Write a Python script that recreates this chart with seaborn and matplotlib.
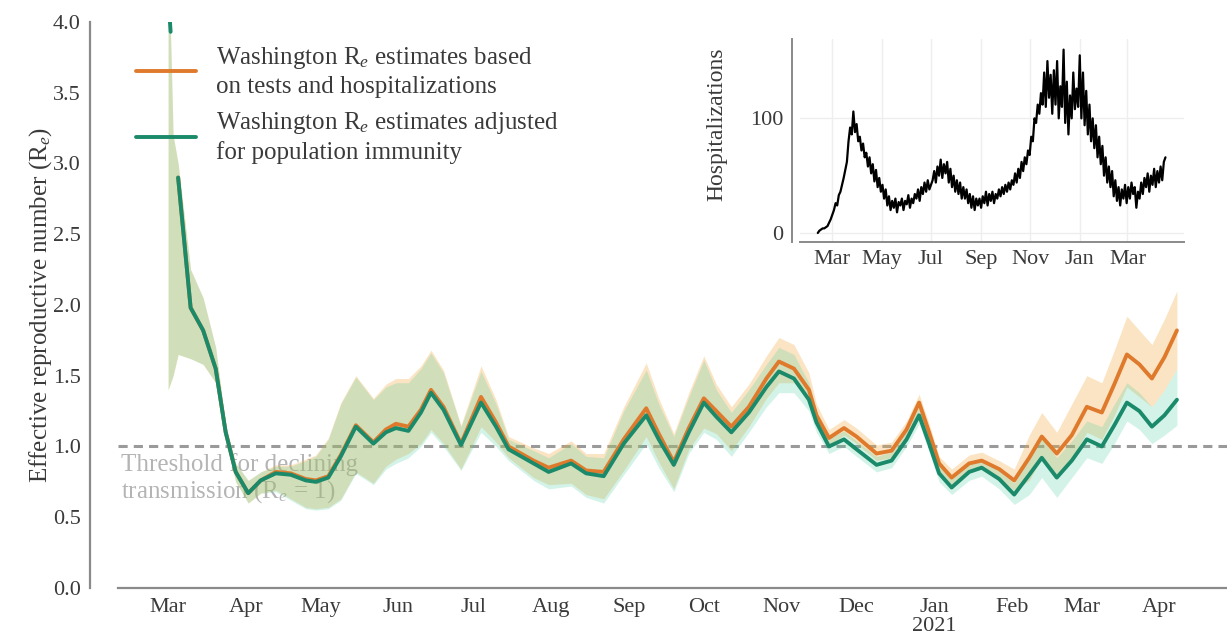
#!/usr/bin/env python3
"""Washington effective reproductive number with hospitalization inset."""

import numpy as np
import pandas as pd

import matplotlib
matplotlib.use('Agg')
import matplotlib.pyplot as plt
import matplotlib.dates as mdates
import seaborn as sns

# ---- Re estimates (days since 2020-03-01) ----
start_day = pd.Timestamp("2020-03-01")
head_days = [0, 1]
head_vals = [4.20, 3.93]

days = [0, 2, 4, 9, 14, 19, 23, 27, 32, 37, 43, 49, 55, 59, 64, 69, 75, 82, 87, 91,
        96, 101, 105, 110, 117, 125, 131, 136, 146, 152, 161, 167, 174, 182, 191, 196,
        202, 208, 214, 219, 225, 232, 239, 244, 250, 256, 259, 264, 270, 275, 283, 289,
        295, 300, 304, 308, 313, 320, 325, 332, 338, 344, 349, 355, 361, 367, 373, 378,
        383, 388, 393, 398, 403]

adjusted = [3.93, np.nan, 2.90, 1.98, 1.82, 1.55, 1.10, 0.82, 0.67, 0.76, 0.81, 0.80,
            0.76, 0.75, 0.78, 0.93, 1.14, 1.02, 1.10, 1.13, 1.11, 1.24, 1.38, 1.26, 1.01,
            1.31, 1.14, 0.98, 0.88, 0.82, 0.88, 0.81, 0.79, 1.02, 1.22, 1.05, 0.87, 1.10,
            1.31, 1.21, 1.10, 1.24, 1.42, 1.53, 1.48, 1.33, 1.17, 1.00, 1.05, 0.98, 0.87,
            0.90, 1.05, 1.22, 1.02, 0.81, 0.71, 0.82, 0.85, 0.77, 0.66, 0.80, 0.92, 0.78,
            0.90, 1.05, 1.00, 1.15, 1.31, 1.25, 1.14, 1.22, 1.33]
adjusted_lo = [1.40, 1.50, 1.65, 1.62, 1.58, 1.45, 1.05, 0.75, 0.60, 0.67, 0.68, 0.62,
               0.56, 0.55, 0.56, 0.62, 0.81, 0.73, 0.84, 0.88, 0.92, 1.00, 1.10, 1.00, 0.83,
               1.10, 1.00, 0.90, 0.76, 0.70, 0.72, 0.64, 0.60, 0.80, 1.02, 0.85, 0.68, 0.95,
               1.10, 1.05, 0.93, 1.10, 1.28, 1.38, 1.38, 1.25, 1.10, 0.95, 1.00, 0.93, 0.82,
               0.85, 1.00, 1.16, 0.96, 0.75, 0.66, 0.76, 0.79, 0.70, 0.59, 0.66, 0.78, 0.64,
               0.78, 0.92, 0.88, 1.02, 1.18, 1.12, 1.02, 1.08, 1.15]
adjusted_hi = [4.60, 3.20, 3.00, 2.25, 2.05, 1.70, 1.15, 0.88, 0.76, 0.82, 0.86, 0.86,
               0.90, 0.93, 1.05, 1.30, 1.49, 1.33, 1.42, 1.45, 1.45, 1.55, 1.66, 1.52, 1.14,
               1.53, 1.30, 1.05, 0.97, 0.92, 1.02, 0.93, 0.92, 1.25, 1.54, 1.30, 1.07, 1.35,
               1.61, 1.40, 1.24, 1.40, 1.58, 1.70, 1.65, 1.45, 1.25, 1.06, 1.11, 1.04, 0.93,
               0.96, 1.11, 1.28, 1.08, 0.86, 0.77, 0.88, 0.91, 0.83, 0.74, 0.95, 1.06, 0.92,
               1.04, 1.18, 1.14, 1.30, 1.45, 1.38, 1.28, 1.40, 1.55]

tests_hosp = [3.93, np.nan, 2.90, 1.98, 1.82, 1.55, 1.10, 0.82, 0.67, 0.76, 0.82, 0.81,
              0.77, 0.76, 0.79, 0.94, 1.15, 1.03, 1.12, 1.16, 1.14, 1.26, 1.40, 1.28, 1.02,
              1.35, 1.17, 1.00, 0.90, 0.85, 0.90, 0.83, 0.82, 1.05, 1.27, 1.09, 0.89, 1.13,
              1.34, 1.25, 1.14, 1.28, 1.48, 1.60, 1.55, 1.40, 1.22, 1.06, 1.13, 1.07, 0.95,
              0.97, 1.12, 1.31, 1.10, 0.88, 0.78, 0.88, 0.90, 0.84, 0.76, 0.92, 1.07, 0.95,
              1.08, 1.28, 1.24, 1.44, 1.65, 1.58, 1.48, 1.63, 1.82]
tests_hosp_lo = [1.40, 1.50, 1.65, 1.62, 1.58, 1.45, 1.05, 0.75, 0.60, 0.67, 0.69, 0.63,
                 0.57, 0.56, 0.57, 0.63, 0.82, 0.74, 0.86, 0.91, 0.95, 1.02, 1.12, 1.02, 0.84,
                 1.14, 1.03, 0.92, 0.78, 0.73, 0.74, 0.66, 0.63, 0.83, 1.07, 0.89, 0.70, 0.98,
                 1.13, 1.09, 0.97, 1.14, 1.34, 1.45, 1.45, 1.32, 1.15, 1.01, 1.08, 1.02, 0.90,
                 0.92, 1.07, 1.25, 1.04, 0.82, 0.73, 0.82, 0.84, 0.77, 0.69, 0.76, 0.92, 0.80,
                 0.92, 1.10, 1.05, 1.22, 1.42, 1.35, 1.28, 1.40, 1.55]
tests_hosp_hi = [4.60, 3.20, 3.00, 2.25, 2.05, 1.70, 1.15, 0.88, 0.76, 0.82, 0.87, 0.87,
                 0.91, 0.94, 1.06, 1.31, 1.50, 1.34, 1.44, 1.48, 1.48, 1.57, 1.68, 1.54, 1.15,
                 1.57, 1.33, 1.07, 0.99, 0.95, 1.04, 0.95, 0.95, 1.28, 1.59, 1.34, 1.09, 1.38,
                 1.64, 1.44, 1.28, 1.44, 1.64, 1.77, 1.72, 1.52, 1.30, 1.12, 1.19, 1.13, 1.01,
                 1.03, 1.18, 1.37, 1.16, 0.93, 0.84, 0.94, 0.96, 0.90, 0.84, 1.08, 1.24, 1.10,
                 1.30, 1.50, 1.45, 1.68, 1.92, 1.82, 1.72, 1.90, 2.10]

# ---- daily hospitalizations, every second day from 2020-02-12 ----
hosp_start = "2020-02-12"
hosp = [0, 2, 3, 4, 4, 5, 6, 9, 12, 16,
        20, 26, 24, 33, 36, 42, 48,
        55, 62, 80, 92, 86, 106,
        88, 95, 80, 84, 72, 78, 66, 70,
        58, 66, 52, 60, 45, 55, 40, 48, 36, 42,
        30, 38, 24, 32, 20, 28, 22, 30, 18, 27,
        24, 30, 20, 28, 25, 33, 22, 30, 26, 34,
        30, 38, 28, 40, 34, 44, 36, 46, 38, 42,
        46, 54, 44, 58, 50, 64, 48, 60, 52, 62,
        44, 56, 40, 50, 36, 46, 34, 44, 30, 40,
        30, 38, 26, 34, 22, 32, 20, 30, 24, 30,
        22, 32, 26, 36, 24, 34, 28, 36, 26, 34,
        30, 38, 32, 40, 34, 42, 36, 44, 38, 46,
        42, 52, 44, 56, 48, 62, 54, 66, 60, 72,
        68, 84, 80, 100, 96, 112, 104, 122, 112, 140,
        110, 150, 118, 138, 104, 142, 112, 150, 100, 128,
        110, 160, 96, 132, 86, 120, 100, 140, 108, 126,
        110, 155, 100, 140, 94, 124, 86, 112, 80, 100,
        74, 94, 66, 84, 60, 76, 50, 66, 44, 58,
        40, 54, 32, 46, 28, 40, 24, 38, 30, 42,
        26, 40, 30, 44, 34, 40, 22, 36, 30, 44,
        34, 48, 40, 52, 36, 50, 42, 56, 40, 54,
        44, 58, 46, 62, 66]

orange = "#df7a2c"
green = "#1a8a6a"
orange_fill = "#f2ad45"
green_fill = "#4ccf9f"
spine_col = "#8a8a8a"
text_col = "#3a3a3a"
FS = 18
TICK_FS = 16

sns.set_theme(style="white")
plt.rcParams['font.family'] = ['Liberation Serif', 'DejaVu Serif']
plt.rcParams['mathtext.fontset'] = 'custom'
plt.rcParams['mathtext.rm'] = 'Liberation Serif'
plt.rcParams['mathtext.it'] = 'Liberation Serif:italic'

dates = start_day + pd.to_timedelta(days, unit="D")
head_dates = start_day + pd.to_timedelta(head_days, unit="D")
df = pd.DataFrame({"date": dates, "adj": adjusted, "tst": tests_hosp})
hdf = pd.DataFrame({"date": pd.date_range(hosp_start, periods=len(hosp), freq="2D"),
                    "hosp": hosp})

fig = plt.figure(figsize=(12.27, 6.44), dpi=100)
ax = fig.add_axes([0.0962, 0.087, 0.9038, 0.879])

ax.axhline(1.0, color="#9a9a9a", lw=2.2, ls=(0, (3, 2)), zorder=1)
ax.text(0.003, 0.955, "Threshold for declining\ntransmission (R$_e$ = 1)",
        transform=ax.get_yaxis_transform(), ha="left", va="top",
        fontsize=FS, color="#b4b4b4", linespacing=1.1, zorder=1)

ax.fill_between(dates, tests_hosp_lo, tests_hosp_hi, color=orange_fill, alpha=0.32,
                lw=0, zorder=2)
ax.fill_between(dates, adjusted_lo, adjusted_hi, color=green_fill, alpha=0.24,
                lw=0, zorder=2)

sns.lineplot(data=df.iloc[2:], x="date", y="tst", ax=ax, color=orange, lw=2.8, zorder=3)
sns.lineplot(data=df.iloc[2:], x="date", y="adj", ax=ax, color=green, lw=2.8, zorder=4)
sns.lineplot(x=head_dates, y=head_vals, ax=ax, color=green, lw=2.8, zorder=4)

ax.set_ylim(0, 4)
ax.set_xlim(pd.Timestamp("2020-02-10"), pd.Timestamp("2021-04-28"))
ax.set_yticks(np.arange(0, 4.01, 0.5))
ax.yaxis.set_major_formatter(matplotlib.ticker.FormatStrFormatter("%.1f"))
month_ticks = pd.date_range("2020-03-01", "2021-04-01", freq="MS")
ax.set_xticks(month_ticks)
ax.set_xticklabels([d.strftime("%b") + ("\n2021" if d == pd.Timestamp("2021-01-01") else "")
                    for d in month_ticks], linespacing=1.0)
ax.set_xlabel("")
ax.set_ylabel("Effective reproductive number (R$_e$)", fontsize=FS, color=text_col)
ax.yaxis.set_label_coords(-0.058, 0.5)
ax.tick_params(axis="both", labelsize=TICK_FS, colors=text_col, length=4, width=1,
               color=spine_col, direction="out", pad=3)

sns.despine(ax=ax)
ax.spines["left"].set_position(("outward", 20))
for s in ("left", "bottom"):
    ax.spines[s].set_color(spine_col)
    ax.spines[s].set_linewidth(1.6)

leg = ax.legend(
    handles=[plt.Line2D([], [], color=orange, lw=2.8),
             plt.Line2D([], [], color=green, lw=2.8)],
    labels=["Washington R$_e$ estimates based\non tests and hospitalizations",
            "Washington R$_e$ estimates adjusted\nfor population immunity"],
    loc="upper left", bbox_to_anchor=(0.007, 0.976), frameon=False, fontsize=FS,
    handlelength=2.4, handletextpad=0.8, labelspacing=0.5, borderaxespad=0)
for t in leg.get_texts():
    t.set_color(text_col)
    t.set_linespacing(1.25)

# ---- inset: hospitalizations ----
ins = fig.add_axes([0.652, 0.624, 0.313, 0.315])
ins.grid(True, color="#eeeeee", lw=1)
sns.lineplot(data=hdf, x="date", y="hosp", ax=ins, color="black", lw=1.6)
ins.set_ylim(-8, 169)
ins.set_xlim(pd.Timestamp("2020-01-21"), pd.Timestamp("2021-05-10"))
ins.set_yticks([0, 100])
ins.set_xticks(pd.date_range("2020-03-01", "2021-03-01", freq="2MS"))
ins.xaxis.set_major_formatter(mdates.DateFormatter("%b"))
ins.set_xlabel("")
ins.set_ylabel("Hospitalizations", fontsize=FS - 1, color=text_col)
ins.yaxis.set_label_coords(-0.19, 0.58)
ins.tick_params(axis="both", labelsize=TICK_FS, colors=text_col, length=3, width=1,
                color=spine_col, pad=3)
sns.despine(ax=ins)
ins.spines["left"].set_position(("outward", 6))
for s in ("left", "bottom"):
    ins.spines[s].set_color(spine_col)
    ins.spines[s].set_linewidth(1.4)

fig.savefig("out.png", dpi=100)
